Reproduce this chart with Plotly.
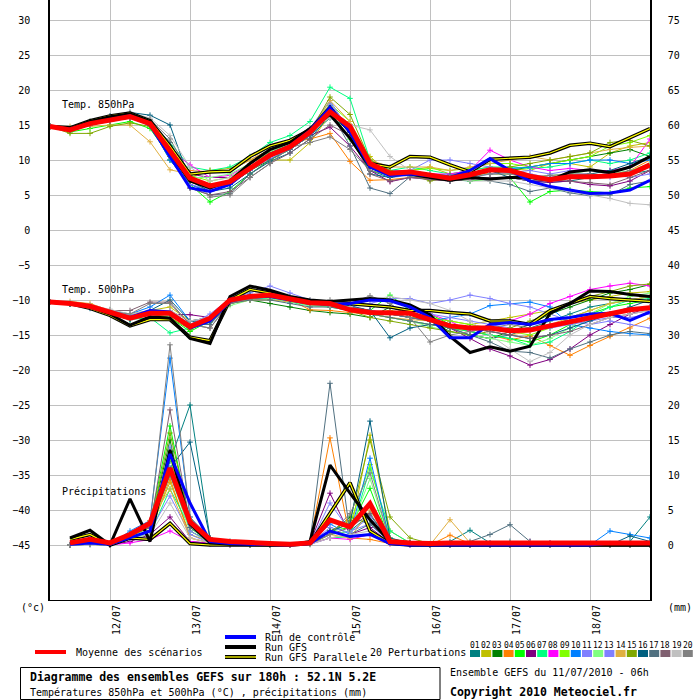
import plotly.graph_objects as go

# ---------------- data ----------------
hours = list(range(0, 181, 6))          # 0h .. 180h (06Z 11/07 start)
precip_hours = hours[1:]                # precipitation from 6h

date_ticks = [18, 42, 66, 90, 114, 138, 162]
date_labels = ["12/07", "13/07", "14/07", "15/07", "16/07", "17/07", "18/07"]
left_ticks = list(range(-45, 31, 5))
right_ticks = list(range(0, 76, 5))

member_ids = ["01", "02", "03", "04", "05", "06", "07", "08", "09", "10",
              "11", "12", "13", "14", "15", "16", "17", "18", "19", "20"]
member_colors = ["#008080", "#c0c000", "#008000", "#ff8000", "#00ff00",
                 "#800080", "#00ff80", "#ff00ff", "#80ff00", "#0080ff",
                 "#8080ff", "#80ff80", "#8080ff", "#e0b040", "#80a800",
                 "#006080", "#507080", "#806070", "#c0c0c0", "#808080"]

# Temperature 850 hPa (deg C)
t850_mean = [14.8, 14.3, 15.2, 15.7, 16.2, 15.2, 11.4, 7.4, 6.3, 6.9, 8.8, 10.7, 11.9, 14.0, 16.9, 14.8,
             9.5, 8.1, 8.3, 7.9, 7.4, 7.9, 8.6, 8.5, 7.7, 7.2, 7.6, 7.6, 7.7, 8.0, 9.3]
t850_control = [14.8, 14.4, 15.2, 15.8, 16.3, 15.0, 10.5, 6.0, 5.5, 6.5, 8.8, 10.8, 12.0, 14.2, 17.5, 14.0,
                9.0, 7.8, 8.0, 7.8, 7.5, 8.5, 10.2, 8.5, 7.0, 6.2, 5.7, 5.2, 5.3, 5.7, 7.1]
t850_gfs = [14.8, 14.5, 15.5, 16.2, 16.6, 15.5, 11.0, 7.0, 6.0, 7.0, 9.5, 11.5, 12.5, 14.5, 16.5, 13.1,
            9.0, 8.0, 8.0, 7.5, 7.1, 7.5, 7.3, 7.5, 7.5, 7.1, 8.3, 8.6, 8.2, 9.0, 10.5]
t850_parallel = [14.8, 14.6, 15.6, 16.3, 16.7, 15.6, 12.0, 8.0, 8.3, 8.4, 10.5, 12.0, 12.8, 14.3, 17.5, 14.0,
                 9.5, 9.0, 10.5, 10.4, 9.3, 8.3, 10.1, 10.3, 10.4, 11.0, 12.1, 12.4, 11.9, 13.2, 14.5]
t850_perturbations = [
    [14.8, 14.2, 15.0, 15.6, 16.0, 15.5, 12.0, 7.5, 6.0, 6.5, 8.5, 10.5, 11.5, 13.5, 16.0, 14.5, 8.5, 7.5, 8.0, 7.8, 7.2, 7.0, 8.5, 8.2, 7.0, 6.8, 7.0, 7.5, 8.0, 8.0, 8.5],
    [14.8, 14.5, 15.5, 16.0, 16.3, 15.5, 11.0, 7.5, 8.5, 8.8, 10.0, 10.0, 10.0, 12.5, 16.5, 14.0, 10.5, 8.0, 8.5, 9.0, 8.0, 8.5, 9.0, 8.8, 8.5, 9.5, 9.5, 9.0, 11.0, 12.0, 12.5],
    [14.8, 14.3, 15.2, 15.8, 16.2, 15.0, 10.0, 6.5, 5.5, 6.5, 8.5, 10.0, 11.8, 13.8, 17.5, 15.0, 9.0, 8.0, 8.2, 7.5, 7.6, 7.8, 8.0, 8.5, 9.0, 9.5, 10.0, 10.5, 11.0, 11.5, 10.5],
    [14.8, 14.6, 15.4, 16.0, 16.5, 15.0, 10.5, 8.5, 8.3, 8.5, 10.0, 11.5, 12.5, 13.0, 13.8, 9.8, 7.1, 7.2, 7.5, 7.5, 7.8, 8.5, 8.0, 8.0, 7.5, 7.8, 7.6, 8.0, 7.8, 8.5, 10.0],
    [14.8, 14.0, 14.5, 15.0, 15.5, 14.5, 10.5, 6.5, 4.0, 5.5, 8.0, 10.0, 11.5, 13.5, 17.0, 13.0, 8.5, 7.8, 7.8, 7.6, 7.4, 7.0, 7.2, 7.5, 4.0, 5.5, 5.7, 5.5, 5.3, 6.0, 6.2],
    [14.8, 14.3, 15.2, 15.7, 16.0, 15.2, 11.5, 8.0, 7.5, 7.5, 9.0, 10.5, 11.5, 13.5, 14.7, 12.0, 8.5, 6.9, 7.5, 7.2, 7.0, 7.3, 7.5, 7.5, 7.0, 6.8, 7.0, 6.5, 6.3, 7.0, 8.5],
    [14.8, 14.5, 15.3, 15.8, 16.2, 15.5, 12.5, 9.0, 8.5, 9.0, 10.5, 12.5, 13.5, 15.5, 20.4, 18.8, 10.0, 8.5, 9.0, 8.5, 8.0, 8.5, 9.0, 9.0, 8.8, 9.0, 9.5, 10.0, 9.5, 10.0, 11.0],
    [14.8, 14.4, 15.3, 15.9, 16.3, 15.3, 11.5, 9.3, 7.5, 7.8, 9.5, 11.0, 12.0, 14.0, 17.5, 15.0, 9.5, 8.0, 8.5, 8.0, 8.0, 8.5, 11.4, 10.0, 9.0, 8.5, 8.8, 8.5, 8.5, 9.0, 13.0],
    [14.8, 14.5, 15.4, 16.0, 16.5, 15.6, 11.0, 7.8, 7.0, 7.5, 9.5, 11.0, 12.5, 14.5, 18.0, 15.5, 9.0, 8.5, 8.5, 8.8, 8.5, 8.8, 9.5, 9.5, 9.0, 9.5, 10.0, 10.5, 12.0, 12.5, 13.5],
    [14.8, 14.2, 15.0, 15.6, 16.0, 15.0, 10.0, 6.5, 5.5, 6.5, 8.8, 10.5, 11.5, 13.5, 17.8, 14.0, 9.5, 8.0, 8.5, 8.0, 7.8, 8.0, 8.5, 8.8, 9.0, 9.5, 9.5, 10.0, 10.0, 9.5, 10.0],
    [14.8, 14.4, 15.4, 16.1, 16.4, 15.4, 11.5, 7.0, 6.0, 7.0, 9.0, 11.0, 12.0, 14.5, 18.5, 14.0, 9.0, 8.5, 8.5, 10.0, 10.0, 9.5, 9.0, 8.5, 8.0, 7.5, 8.0, 8.0, 7.5, 8.0, 9.0],
    [14.8, 14.5, 15.3, 15.8, 16.1, 15.2, 10.5, 7.5, 7.5, 8.0, 9.5, 11.2, 12.2, 14.0, 17.0, 14.5, 9.0, 8.0, 8.0, 7.8, 7.5, 7.8, 8.0, 8.0, 7.5, 7.8, 8.0, 8.5, 8.0, 8.5, 9.5],
    [14.8, 14.3, 15.1, 15.7, 16.2, 15.3, 11.0, 6.5, 5.8, 6.8, 8.5, 10.2, 11.5, 13.8, 18.0, 14.5, 9.0, 7.5, 7.8, 7.5, 7.2, 7.5, 8.0, 8.2, 8.5, 8.0, 8.5, 8.5, 8.0, 7.5, 8.0],
    [14.8, 14.8, 14.8, 15.0, 15.0, 12.6, 8.6, 8.0, 8.5, 8.5, 10.0, 11.5, 12.5, 14.0, 18.5, 15.5, 10.0, 9.0, 9.0, 9.0, 8.5, 9.0, 9.5, 10.0, 10.5, 10.0, 10.5, 11.0, 11.5, 11.8, 12.0],
    [14.8, 13.8, 13.8, 14.8, 15.3, 14.8, 10.5, 7.0, 6.5, 7.0, 9.0, 11.0, 12.0, 14.0, 19.0, 16.5, 10.0, 8.5, 8.0, 7.0, 7.5, 8.0, 8.5, 9.0, 9.5, 10.0, 10.5, 11.0, 12.5, 12.8, 12.0],
    [14.8, 14.5, 15.5, 16.3, 16.8, 16.4, 15.0, 7.0, 5.5, 6.0, 8.0, 9.8, 11.0, 13.0, 16.5, 14.0, 8.0, 7.5, 8.0, 7.8, 7.0, 7.5, 8.5, 7.5, 7.0, 7.5, 7.8, 8.0, 8.5, 9.5, 10.5],
    [14.8, 14.4, 15.2, 15.8, 16.4, 15.6, 12.5, 6.0, 5.0, 5.2, 8.0, 10.0, 11.5, 13.5, 17.0, 12.0, 6.0, 5.2, 7.6, 7.5, 7.8, 7.5, 7.0, 6.5, 5.5, 6.0, 5.3, 4.9, 5.0, 6.5, 7.0],
    [14.8, 14.2, 15.0, 15.5, 16.0, 15.0, 10.5, 6.0, 5.0, 5.5, 7.5, 9.5, 11.0, 13.0, 15.0, 13.5, 8.0, 7.0, 7.5, 7.2, 7.0, 7.2, 7.5, 7.5, 7.0, 7.2, 7.0, 6.8, 6.5, 7.5, 8.5],
    [14.8, 14.6, 15.5, 16.2, 16.8, 16.0, 13.5, 9.0, 7.0, 7.5, 9.5, 11.5, 12.8, 14.5, 16.0, 15.0, 14.3, 10.5, 8.5, 8.0, 7.5, 7.0, 7.0, 7.0, 6.5, 6.0, 5.5, 5.0, 4.5, 3.8, 3.6],
    [14.8, 14.5, 15.4, 16.0, 16.6, 15.8, 13.0, 8.0, 4.7, 5.0, 7.5, 9.5, 11.8, 12.5, 13.3, 11.5, 8.5, 7.8, 8.0, 7.5, 7.0, 7.5, 8.0, 8.0, 7.5, 7.8, 8.0, 8.0, 7.8, 8.5, 9.0],
]

# Temperature 500 hPa (deg C)
t500_mean = [-10.3, -10.5, -10.9, -11.7, -12.6, -11.9, -11.9, -13.8, -12.6, -10.0, -9.5, -9.3, -9.8, -10.4, -10.5, -11.4,
             -11.8, -11.8, -11.9, -12.8, -13.7, -14.0, -14.0, -14.4, -14.3, -13.7, -13.1, -12.5, -11.9, -11.4, -11.1]
t500_control = [-10.3, -10.5, -11.0, -11.8, -12.5, -11.5, -11.7, -14.0, -13.0, -10.2, -9.5, -9.5, -10.0, -10.5, -10.6, -10.5,
                -10.0, -10.1, -11.0, -12.5, -15.4, -15.4, -13.5, -13.2, -13.5, -12.8, -12.5, -12.0, -11.9, -12.9, -11.7]
t500_gfs = [-10.3, -10.5, -11.0, -12.0, -13.6, -12.4, -12.6, -15.5, -16.2, -9.5, -8.0, -8.6, -9.5, -10.0, -10.2, -10.0,
            -9.8, -10.0, -10.7, -12.1, -15.2, -17.5, -16.7, -17.3, -16.6, -11.9, -10.5, -8.7, -8.8, -9.2, -9.5]
t500_parallel = [-10.3, -10.5, -11.2, -12.2, -13.7, -12.8, -12.8, -15.3, -15.8, -10.0, -8.5, -9.0, -9.8, -10.2, -10.3, -10.5,
                 -10.8, -11.0, -11.5, -11.5, -11.8, -12.0, -13.0, -13.0, -13.5, -11.5, -10.5, -9.5, -9.8, -10.0, -10.2]
t500_perturbations = [
    [-10.3, -10.4, -11.0, -11.8, -12.3, -11.8, -11.5, -13.5, -13.0, -10.5, -9.8, -9.5, -10.0, -10.5, -10.8, -11.0, -11.5, -12.0, -12.5, -13.0, -14.0, -15.0, -15.5, -15.0, -14.0, -13.0, -12.0, -11.0, -10.5, -10.0, -9.5],
    [-10.3, -10.4, -10.8, -11.5, -12.0, -11.5, -11.0, -13.0, -12.5, -10.2, -9.5, -9.0, -9.5, -10.0, -10.5, -11.5, -12.0, -11.5, -12.0, -12.5, -13.0, -13.5, -13.0, -12.5, -12.0, -11.5, -10.5, -10.0, -9.5, -9.0, -8.8],
    [-10.3, -10.6, -11.0, -12.0, -12.8, -12.0, -12.0, -13.5, -12.5, -10.5, -10.0, -10.5, -11.0, -11.5, -11.8, -12.0, -12.5, -11.0, -12.0, -13.0, -14.5, -15.0, -15.5, -14.5, -13.5, -12.0, -11.0, -10.0, -9.0, -8.5, -7.8],
    [-10.3, -10.5, -10.8, -11.5, -12.5, -11.5, -11.5, -13.0, -12.5, -10.0, -9.5, -9.5, -10.0, -11.4, -11.5, -11.8, -12.0, -12.5, -13.0, -13.5, -14.0, -14.5, -15.0, -15.7, -15.1, -16.5, -17.9, -16.5, -15.2, -14.0, -12.6],
    [-10.3, -10.4, -10.8, -11.5, -12.5, -12.0, -12.5, -14.5, -13.0, -10.0, -9.5, -9.5, -10.0, -10.5, -10.8, -11.0, -11.5, -9.3, -11.5, -12.0, -13.5, -14.5, -15.0, -15.5, -16.0, -15.0, -13.5, -12.0, -11.0, -10.5, -10.0],
    [-10.3, -10.5, -11.0, -11.8, -12.5, -12.0, -12.0, -12.1, -12.5, -10.0, -9.3, -9.5, -10.0, -10.5, -10.5, -11.0, -11.5, -12.0, -12.5, -13.0, -14.0, -15.5, -17.0, -18.0, -19.3, -18.5, -17.0, -15.0, -13.5, -12.0, -11.0],
    [-10.3, -10.5, -11.0, -12.0, -12.8, -12.5, -14.7, -14.0, -13.0, -10.5, -9.8, -9.8, -10.3, -10.8, -11.0, -11.5, -12.0, -12.5, -13.0, -13.5, -14.0, -14.5, -15.0, -15.5, -16.5, -16.0, -14.5, -12.5, -11.0, -10.0, -9.8],
    [-10.3, -10.5, -10.9, -11.6, -12.4, -11.8, -11.8, -13.5, -12.8, -10.2, -9.7, -9.5, -10.0, -10.5, -10.8, -11.5, -11.5, -11.8, -11.5, -12.0, -13.0, -14.5, -13.5, -13.0, -12.0, -10.5, -9.5, -8.5, -8.0, -7.6, -8.0],
    [-10.3, -10.4, -10.8, -11.6, -12.3, -11.8, -12.0, -13.8, -13.0, -10.3, -9.8, -9.5, -10.0, -10.6, -10.8, -11.0, -11.8, -12.0, -12.5, -12.5, -13.0, -13.5, -14.0, -14.5, -15.0, -14.0, -12.5, -11.5, -10.5, -10.0, -9.5],
    [-10.3, -10.5, -11.0, -11.5, -12.0, -11.0, -9.3, -13.0, -12.5, -10.5, -9.8, -9.7, -10.0, -10.5, -10.8, -11.0, -11.5, -12.0, -12.5, -13.0, -12.5, -12.0, -10.8, -10.5, -10.3, -11.0, -13.5, -14.0, -14.5, -14.8, -15.0],
    [-10.3, -10.4, -10.8, -11.5, -12.2, -11.6, -11.6, -13.5, -12.0, -9.8, -9.0, -8.0, -9.0, -10.0, -10.5, -10.8, -10.5, -9.8, -9.8, -10.5, -10.0, -9.3, -9.8, -10.5, -11.0, -12.0, -13.0, -13.5, -13.0, -13.5, -14.0],
    [-10.3, -10.5, -11.0, -11.7, -12.5, -12.0, -12.2, -14.0, -13.2, -10.8, -10.0, -9.8, -10.2, -10.8, -11.0, -11.5, -12.0, -12.5, -13.0, -13.8, -14.5, -15.0, -15.5, -16.0, -16.5, -15.5, -14.0, -12.0, -10.5, -9.5, -9.0],
    [-10.3, -10.5, -10.9, -11.7, -12.5, -11.5, -11.5, -13.5, -12.8, -10.0, -9.5, -9.0, -9.5, -10.2, -10.5, -11.0, -11.5, -12.0, -11.5, -12.0, -12.5, -13.0, -13.5, -14.0, -14.5, -14.0, -13.5, -13.0, -12.5, -12.5, -12.0],
    [-10.3, -10.2, -10.5, -11.5, -12.5, -11.8, -11.8, -13.5, -13.0, -10.5, -10.0, -10.0, -10.2, -10.5, -10.8, -11.2, -12.0, -12.5, -12.8, -13.0, -13.5, -14.0, -14.5, -15.0, -14.5, -13.5, -12.5, -11.5, -10.5, -10.0, -9.5],
    [-10.3, -10.5, -11.0, -11.8, -12.5, -12.0, -12.5, -14.2, -13.0, -10.2, -9.5, -9.5, -10.0, -10.5, -10.8, -11.5, -12.5, -13.0, -13.5, -14.0, -14.5, -15.0, -14.5, -14.0, -13.0, -12.0, -10.5, -9.5, -8.8, -8.0, -7.7],
    [-10.3, -10.6, -11.2, -12.0, -12.8, -11.5, -10.0, -13.0, -13.5, -10.0, -9.3, -9.5, -10.0, -10.5, -10.5, -10.8, -11.5, -15.4, -14.0, -13.5, -13.5, -14.0, -14.5, -15.0, -15.5, -15.0, -14.0, -13.0, -12.0, -11.0, -10.0],
    [-10.3, -10.5, -11.0, -11.8, -12.5, -12.0, -12.0, -13.5, -13.5, -10.5, -10.0, -10.0, -10.5, -11.0, -11.0, -11.5, -12.0, -12.5, -13.0, -13.5, -14.0, -15.0, -16.0, -17.3, -17.5, -18.3, -17.0, -16.0, -15.0, -14.5, -14.8],
    [-10.3, -10.5, -10.8, -11.5, -11.5, -10.3, -10.3, -13.5, -14.0, -10.3, -9.5, -9.5, -10.0, -10.5, -10.8, -11.0, -11.5, -12.0, -12.5, -13.0, -13.5, -14.0, -14.5, -15.0, -15.5, -15.0, -14.5, -13.5, -12.5, -12.0, -11.5],
    [-10.3, -10.4, -10.7, -11.3, -12.0, -11.5, -11.5, -13.0, -12.5, -10.0, -9.5, -9.3, -9.8, -10.5, -10.8, -11.0, -10.0, -9.5, -10.0, -10.5, -11.5, -13.0, -15.0, -17.0, -18.8, -17.5, -15.0, -13.5, -12.5, -12.0, -11.5],
    [-10.3, -10.5, -11.0, -11.7, -12.0, -10.5, -10.5, -13.5, -14.0, -10.5, -9.8, -9.5, -10.0, -10.5, -10.0, -10.5, -9.4, -10.5, -12.5, -16.0, -15.0, -14.5, -14.0, -13.5, -14.0, -13.5, -13.0, -12.5, -12.0, -11.5, -11.0],
]

# Precipitation (mm, right axis), 6h .. 180h
rr_mean = [0.3, 0.8, 0.3, 1.5, 3.1, 11.0, 3.3, 0.8, 0.5, 0.3, 0.2, 0.1, 0.3, 3.6, 2.6,
           5.9, 0.5, 0.3, 0.2, 0.3, 0.3, 0.2, 0.2, 0.3, 0.3, 0.2, 0.2, 0.2, 0.3, 0.3]
rr_control = [0.1, 0.3, 0.1, 1.0, 2.0, 13.0, 6.0, 0.5, 0.2, 0.1, 0.0, 0.0, 0.2, 2.0, 1.2,
              1.5, 0.2, 0.0, 0.0, 0.0, 0.0, 0.0, 0.0, 0.0, 0.0, 0.0, 0.0, 0.3, 0.2, 0.3]
rr_gfs = [1.0, 2.1, 0.0, 6.6, 0.5, 13.6, 3.0, 0.3, 0.1, 0.0, 0.0, 0.0, 0.5, 11.4, 7.4,
          3.6, 0.5, 0.0, 0.0, 0.0, 0.0, 0.0, 0.0, 0.0, 0.0, 0.0, 0.0, 0.0, 0.0, 0.0]
rr_parallel = [0.8, 1.5, 0.0, 1.0, 0.8, 3.1, 0.2, 0.0, 0.0, 0.0, 0.0, 0.0, 0.2, 4.5, 8.9,
               2.0, 0.2, 0.0, 0.0, 0.0, 0.0, 0.0, 0.0, 0.0, 0.0, 0.0, 0.0, 0.0, 0.0, 0.0]
rr_perturbations = [
    [0, 0.2, 0, 1.5, 2.5, 12.0, 20.0, 1.0, 0.5, 0.2, 0, 0, 0.3, 1.5, 2.0, 4.3, 0.5, 0.2, 0, 0.5, 2.1, 0.3, 0.2, 0.2, 0, 0, 0, 0.2, 0.5, 4.0],
    [0, 0.1, 0, 1.0, 2.0, 9.0, 1.5, 0.5, 0.2, 0, 0, 0, 0.2, 1.0, 1.5, 15.7, 2.0, 0.3, 0, 0.2, 0.1, 0, 0, 0.1, 0, 0, 0, 0, 0, 0],
    [0, 0.2, 0, 1.5, 2.5, 15.0, 2.0, 0.5, 0.2, 0.2, 0, 0, 0.1, 1.5, 4.0, 3.0, 0.5, 0.3, 0, 0, 0.2, 0.1, 0.3, 0.2, 0, 0, 0, 0, 0, 0],
    [0, 0.1, 0, 1.0, 2.0, 9.5, 1.0, 0.3, 0.2, 0, 0, 0, 0.5, 15.3, 1.0, 0.8, 0.2, 0, 0, 1.4, 0.2, 0, 0, 0, 0, 0, 0, 0, 0, 0],
    [0, 0.2, 0, 1.5, 3.0, 17.0, 3.0, 0.5, 0.2, 0, 0, 0, 0.2, 2.0, 2.5, 8.1, 0.5, 0.2, 0, 0, 0, 0, 0, 0, 0, 0, 0, 0, 0, 0],
    [0, 0.1, 0, 0.5, 1.5, 4.0, 0.5, 0.2, 0, 0, 0, 0, 0.3, 7.4, 1.5, 2.5, 0.3, 0, 0, 0, 0, 0.2, 0, 0.5, 0.3, 0, 0, 0, 0, 0],
    [0, 0.1, 0, 1.0, 1.5, 8.0, 2.5, 0.3, 0, 0, 0, 0, 0.1, 1.0, 1.2, 11.0, 2.0, 0.3, 0, 0, 0, 0, 0, 0, 0, 0, 0, 0, 0, 0],
    [0, 0.1, 0, 0.3, 0.8, 2.0, 0.5, 0.2, 0, 0, 0, 0, 0.1, 1.0, 0.8, 1.5, 0.2, 0, 0, 0, 0, 0, 0, 0.3, 0.2, 0, 0, 0, 0, 0],
    [0, 0.2, 0, 1.2, 2.5, 12.5, 2.5, 0.5, 0.2, 0, 0, 0, 0.2, 2.0, 3.0, 11.5, 1.0, 0.2, 0, 0, 0, 0, 0, 0, 0, 0, 0, 0, 0, 0],
    [0, 0.3, 0, 2.0, 3.5, 26.7, 4.0, 0.5, 0.2, 0, 0, 0, 0.3, 3.0, 1.5, 12.4, 0.5, 0.3, 0, 0, 0, 0, 0, 0, 0, 0, 0, 2.0, 1.5, 1.0],
    [0, 0.2, 0, 1.0, 2.0, 7.0, 1.5, 0.3, 0.1, 0, 0, 0, 0.2, 6.0, 2.0, 3.0, 0.3, 0, 0, 0, 0, 0.3, 0, 0, 0, 0, 0, 0, 0, 0],
    [0, 0.1, 0, 1.0, 1.8, 10.0, 2.0, 0.3, 0.1, 0, 0, 0, 0.1, 1.5, 2.0, 9.5, 0.5, 0.1, 0, 0, 0, 0, 0, 0, 0, 0, 0, 0, 0, 0],
    [0, 0.2, 0, 1.0, 2.0, 14.0, 2.0, 0.4, 0.1, 0, 0, 0, 0.2, 2.5, 1.8, 4.0, 0.3, 0, 0, 0, 0, 0, 0, 0, 0, 0, 0, 0, 0, 0],
    [0, 0.2, 0, 1.5, 3.5, 8.0, 1.0, 0.3, 0.1, 0, 0, 0, 0.2, 1.5, 1.0, 5.0, 0.5, 0.2, 0, 3.6, 0.3, 0, 0, 0, 0, 0, 0, 0, 0, 0],
    [0, 0.2, 0, 1.2, 2.5, 16.0, 3.5, 0.5, 0.2, 0, 0, 0, 0.2, 2.0, 3.5, 15.0, 4.0, 1.0, 0.2, 0.1, 0, 0, 0, 0, 0, 0, 0, 0, 0, 0],
    [0, 0.1, 0, 1.0, 2.0, 11.0, 14.7, 1.0, 0.3, 0, 0, 0, 0.3, 2.0, 3.0, 17.7, 1.0, 0.3, 0, 0, 0, 0, 0.5, 0, 0, 0, 0, 0, 1.3, 0.5],
    [0, 0.2, 0, 1.5, 2.5, 10.0, 2.5, 0.5, 0.3, 0.2, 0, 0, 0.5, 23.1, 1.5, 3.0, 0.5, 0.3, 0, 0.3, 0.5, 1.5, 2.9, 0.5, 0.2, 0, 0, 0, 0, 0],
    [0, 0.2, 0, 1.5, 2.5, 19.3, 3.0, 0.8, 0.3, 0.1, 0, 0, 0.2, 1.5, 2.5, 4.5, 0.5, 0.3, 0, 0, 0, 0, 0, 0, 0, 0, 0, 0, 0, 0],
    [0, 0.1, 0, 1.0, 1.5, 6.0, 1.0, 0.3, 0, 0, 0, 0, 0.1, 1.0, 1.5, 2.0, 0.3, 0, 0, 0, 0, 0, 0.5, 0.3, 0, 0, 0, 0, 0, 0],
    [0, 0.2, 0, 1.5, 3.0, 28.6, 4.0, 1.0, 0.5, 0.3, 0.1, 0, 0.2, 1.5, 4.5, 10.3, 0.5, 0.2, 0, 0, 0, 0, 0, 0, 0, 0, 0, 0, 0, 0],
]

# ---------------- figure ----------------
MONO = "DejaVu Sans Mono"
fig = go.Figure()


def add_series(x, y, color, width, axis="y", markers=False):
    fig.add_trace(go.Scatter(
        x=x, y=y, yaxis=axis, mode="lines+markers" if markers else "lines",
        line=dict(color=color, width=width),
        marker=dict(symbol="cross-thin", size=4, line=dict(width=1, color=color)) if markers else None,
        hoverinfo="skip", showlegend=False))


# perturbations first
for i, c in enumerate(member_colors):
    add_series(hours, t850_perturbations[i], c, 1, markers=True)
    add_series(hours, t500_perturbations[i], c, 1, markers=True)
    add_series(precip_hours, rr_perturbations[i], c, 1, axis="y2", markers=True)

# GFS parallel (black with yellow core)
for series, axis, x in [(t850_parallel, "y", hours), (t500_parallel, "y", hours), (rr_parallel, "y2", precip_hours)]:
    add_series(x, series, "black", 3.5, axis)
    add_series(x, series, "#ffff00", 1.2, axis)
# GFS
add_series(hours, t850_gfs, "black", 3)
add_series(hours, t500_gfs, "black", 3)
add_series(precip_hours, rr_gfs, "black", 3, "y2")
# control
add_series(hours, t850_control, "#0000ff", 3)
add_series(hours, t500_control, "#0000ff", 3)
add_series(precip_hours, rr_control, "#0000ff", 3, "y2")
# mean
add_series(hours, t850_mean, "#ff0000", 5)
add_series(hours, t500_mean, "#ff0000", 5)
add_series(precip_hours, rr_mean, "#ff0000", 5, "y2")

# pixel -> paper helpers (plot area: x 50..650, y 0..600)
def px(x):
    return (x - 50) / 600.0


def py(y):
    return (600 - y) / 600.0


annotations = []


def text(x, y, s, size=10, bold=False, anchor="left"):
    annotations.append(dict(
        x=px(x), y=py(y), xref="paper", yref="paper", text=("<b>%s</b>" % s) if bold else s,
        showarrow=False, xanchor=anchor, yanchor="middle",
        font=dict(family=MONO, size=size, color="#000000")))


text(60, 104, "Temp. 850hPa")
text(60, 290, "Temp. 500hPa")
text(60, 491, "Précipitations")
text(19, 607, "(°c)")
text(666, 607, "(mm)")

text(74, 652, "Moyenne des scénarios")
text(263, 637, "Run de contrôle")
text(263, 647, "Run GFS")
text(263, 657, "Run GFS Parallele")
text(368, 652, "20 Perturbations")
text(28, 677, "Diagramme des ensembles GEFS sur 180h : 52.1N 5.2E", size=11.5, bold=True)
text(28, 692, "Températures 850hPa et 500hPa (°C) , précipitations (mm)", size=10)
text(448, 672, "Ensemble GEFS du 11/07/2010 - 06h", size=10)
text(448, 692, "Copyright 2010 Meteociel.fr", size=11.5, bold=True)

shapes = []


def hline(x0, x1, y, color, width):
    shapes.append(dict(type="line", xref="paper", yref="paper", x0=px(x0), x1=px(x1),
                       y0=py(y), y1=py(y), line=dict(color=color, width=width)))


hline(35, 66, 652, "#ff0000", 4)
hline(225, 256, 637, "#0000ff", 4)
hline(225, 256, 647, "black", 4)
hline(225, 256, 657, "black", 4)
hline(225, 256, 657, "#ffff00", 1.3)

for i, (mid, c) in enumerate(zip(member_ids, member_colors)):
    x0 = 470 + i * 11.2
    shapes.append(dict(type="rect", xref="paper", yref="paper", x0=px(x0), x1=px(x0 + 10),
                       y0=py(657), y1=py(650), fillcolor=c, line=dict(width=0)))
    annotations.append(dict(x=px(x0 + 5), y=py(645), xref="paper", yref="paper", text=mid,
                            showarrow=False, xanchor="center", yanchor="middle",
                            font=dict(family=MONO, size=8, color="black")))

shapes.append(dict(type="rect", xref="paper", yref="paper", x0=px(20.5), x1=px(440),
                   y0=py(699.5), y1=py(667.5), line=dict(color="black", width=1), fillcolor="rgba(0,0,0,0)"))

y_lo, y_hi = (230 - 600) / 7.0, 230 / 7.0
fig.update_layout(
    width=700, height=700, margin=dict(l=50, r=50, t=0, b=100),
    paper_bgcolor="white", plot_bgcolor="white", showlegend=False,
    annotations=annotations, shapes=shapes,
    xaxis=dict(range=[0, 180], tickvals=date_ticks, ticktext=date_labels, tickangle=-90,
               showgrid=True, gridcolor="#c0c0c0", gridwidth=1, zeroline=False,
               showline=True, linecolor="black", linewidth=1, ticks="",
               ticklabelshift=7,
               tickfont=dict(family=MONO, size=10, color="black")),
    yaxis=dict(range=[y_lo, y_hi], tickvals=left_ticks, showgrid=True, gridcolor="#c0c0c0",
               gridwidth=1, zeroline=False, showline=True, linecolor="black", linewidth=1.5,
               ticks="outside", ticklen=16, tickcolor="rgba(0,0,0,0)",
               tickfont=dict(family=MONO, size=10, color="black")),
    yaxis2=dict(range=[y_lo + 45, y_hi + 45], tickvals=right_ticks, overlaying="y", side="right",
                showgrid=False, zeroline=False, showline=True, linecolor="black", linewidth=1.5,
                ticks="outside", ticklen=14, tickcolor="rgba(0,0,0,0)",
                tickfont=dict(family=MONO, size=10, color="black")),
)

fig.write_html("out.html", config={"displayModeBar": False},
               post_script="document.body.style.margin='0px';document.body.style.overflow='hidden';")
